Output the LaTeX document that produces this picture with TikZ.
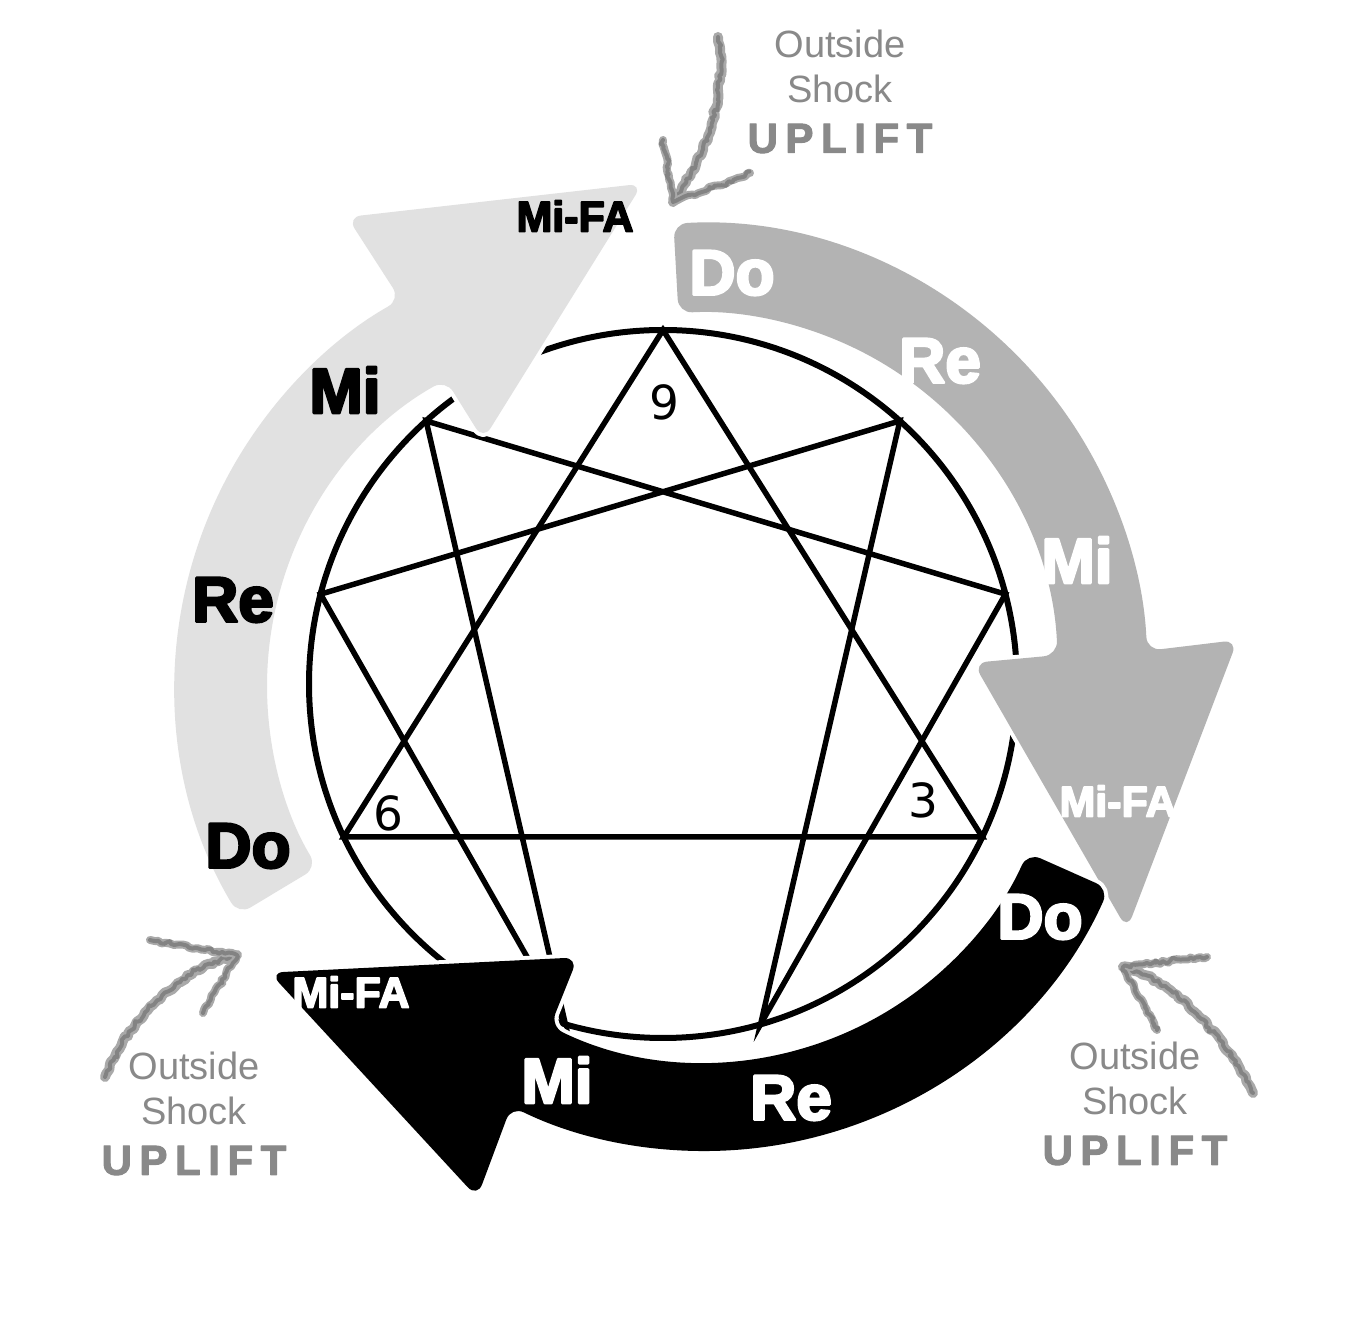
\documentclass[tikz,border=0pt]{standalone}
\usepackage{fontspec}
\setmainfont{Liberation Sans}[BoldFeatures={FakeBold=4}]
\newfontfamily\numfont{DejaVu Sans}
\newfontfamily\spacedfont{Liberation Sans}[LetterSpace=18,BoldFeatures={FakeBold=2.5}]
\usetikzlibrary{decorations.pathmorphing}
\definecolor{pale}{HTML}{E1E1E1}
\definecolor{mid}{HTML}{B3B3B3}
\definecolor{chalk}{HTML}{7A7A7A}
\definecolor{shockgray}{HTML}{898989}
\newcommand\sz[1]{\fontsize{#1}{#1}\selectfont}

\begin{document}
\begin{tikzpicture}[x=1pt,y=1pt,line join=round,
  word/.style={font=\sz{64}\bfseries,inner sep=0pt,line join=round},
  small/.style={font=\sz{43}\bfseries,inner sep=0pt,line join=round},
  digit/.style={font=\numfont\sz{47},inner sep=0pt},
  shock/.style={text=shockgray,align=center,inner sep=0pt,line join=round,font=\fontsize{38}{45}\selectfont},
  chalkline/.style={draw=chalk!65,line width=10pt,line cap=round,line join=round,decorate,decoration={random steps,segment length=4pt,amplitude=1.5pt},
    postaction={draw=chalk,line width=4pt,opacity=.8,decorate,decoration={random steps,segment length=3pt,amplitude=2.5pt}}},
  arrowband/.style={rounded corners=14pt,preaction={draw=white,line width=8pt}}]
\useasboundingbox (0,0) rectangle (1344,1344);
\fill[white] (0,0) rectangle (1344,1344);

% enneagram
\coordinate (c) at (663,660);
\foreach \n/\a in {1/48,2/14.7,3/-25.6,4/-74,5/-106,6/205.6,7/165.3,8/132,9/90}
  \coordinate (n\n) at ([shift={(\a:354)}]c);
\draw[line width=6pt] (c) circle[radius=354];
\draw[line width=5.5pt,line join=miter] (n9)--(n3)--(n6)--cycle;
\draw[line width=5.5pt,line join=miter] (n1)--(n4)--(n2)--(n8)--(n5)--(n7)--cycle;
\node[digit] (d9) at (664,942) {9};
\node[digit] (d6) at (388,531) {6};
\node[digit] (d3) at (923,544) {3};

% the three octave arrows
\fill[pale,arrowband,shift={(619,658)}] (211:444) arc[start angle=211,end angle=119.5,radius=444] -- (120.1:542) -- (87.3:503) -- (118.9:281) -- (119.5:352) arc[start angle=119.5,end angle=211,radius=352] -- cycle;
\fill[mid,arrowband,shift={(698.5,672)}] (93.2:449) arc[start angle=93.2,end angle=2.7,radius=449] -- (3.4:540) -- (-31:500) -- (1.9:275) -- (2.7:359.5) arc[start angle=2.7,end angle=93.2,radius=359.5] -- cycle;
\fill[black,arrowband,shift={(705,635)}] (-24:442) arc[start angle=-24,end angle=-116,radius=442] -- (-115:539) -- (-148.8:509) -- (-117.1:279) -- (-116:353) arc[start angle=-116,end angle=-24,radius=353] -- cycle;

\node[small] (lfa) at (575,1128) {Mi-FA};
\node[word] (lmi) at (345,954) {Mi};
\node[word] (lre) at (233,744) {Re};
\node[word] (ldo) at (248,498) {Do};
\node[word,text=white] (mdo) at (732,1071) {Do};
\node[word,text=white] (mre) at (940,983) {Re};
\node[word,text=white] (mmi) at (1077,784) {Mi};
\node[small,text=white] (mfa) at (1118,543) {Mi-FA};
\node[word,text=white] (bdo) at (1040,427) {Do};
\node[word,text=white] (bre) at (791,246) {Re};
\node[word,text=white] (bmi) at (557,264) {Mi};
\node[small,text=white] (bfa) at (351,352) {Mi-FA};

% outside shocks
\node[shock,anchor=north] (shockT) at (840,1314) {Outside\\Shock\\[5pt]{\spacedfont\bfseries\fontsize{42}{45}\selectfont UPLIFT}};
\node[shock,anchor=north] (shockL) at (194,292) {Outside\\Shock\\[5pt]{\spacedfont\bfseries\fontsize{42}{45}\selectfont UPLIFT}};
\node[shock,anchor=north] (shockR) at (1135,302) {Outside\\Shock\\[5pt]{\spacedfont\bfseries\fontsize{42}{45}\selectfont UPLIFT}};

\coordinate (tailT) at (718,1307); \coordinate (tipT) at (673,1142);
\coordinate (barbT1) at (663,1204); \coordinate (barbT2) at (750,1171);
\draw[chalkline] (tailT) .. controls (728,1240) and (702,1183) .. (tipT);
\draw[chalkline,line width=8pt] (barbT1) -- (tipT) -- (barbT2);
\coordinate (tailL) at (105,267); \coordinate (tipL) at (237,389);
\coordinate (barbL1) at (150,404); \coordinate (barbL2) at (203,331);
\draw[chalkline] (tailL) .. controls (125,320) and (180,377) .. (tipL);
\draw[chalkline,line width=8pt] (barbL1) -- (tipL) -- (barbL2);
\coordinate (tailR) at (1253,251); \coordinate (tipR) at (1123,377);
\coordinate (barbR1) at (1207,387); \coordinate (barbR2) at (1157,314);
\draw[chalkline] (tailR) .. controls (1225,310) and (1168,368) .. (tipR);
\draw[chalkline,line width=8pt] (barbR1) -- (tipR) -- (barbR2);
\end{tikzpicture}
\end{document}
